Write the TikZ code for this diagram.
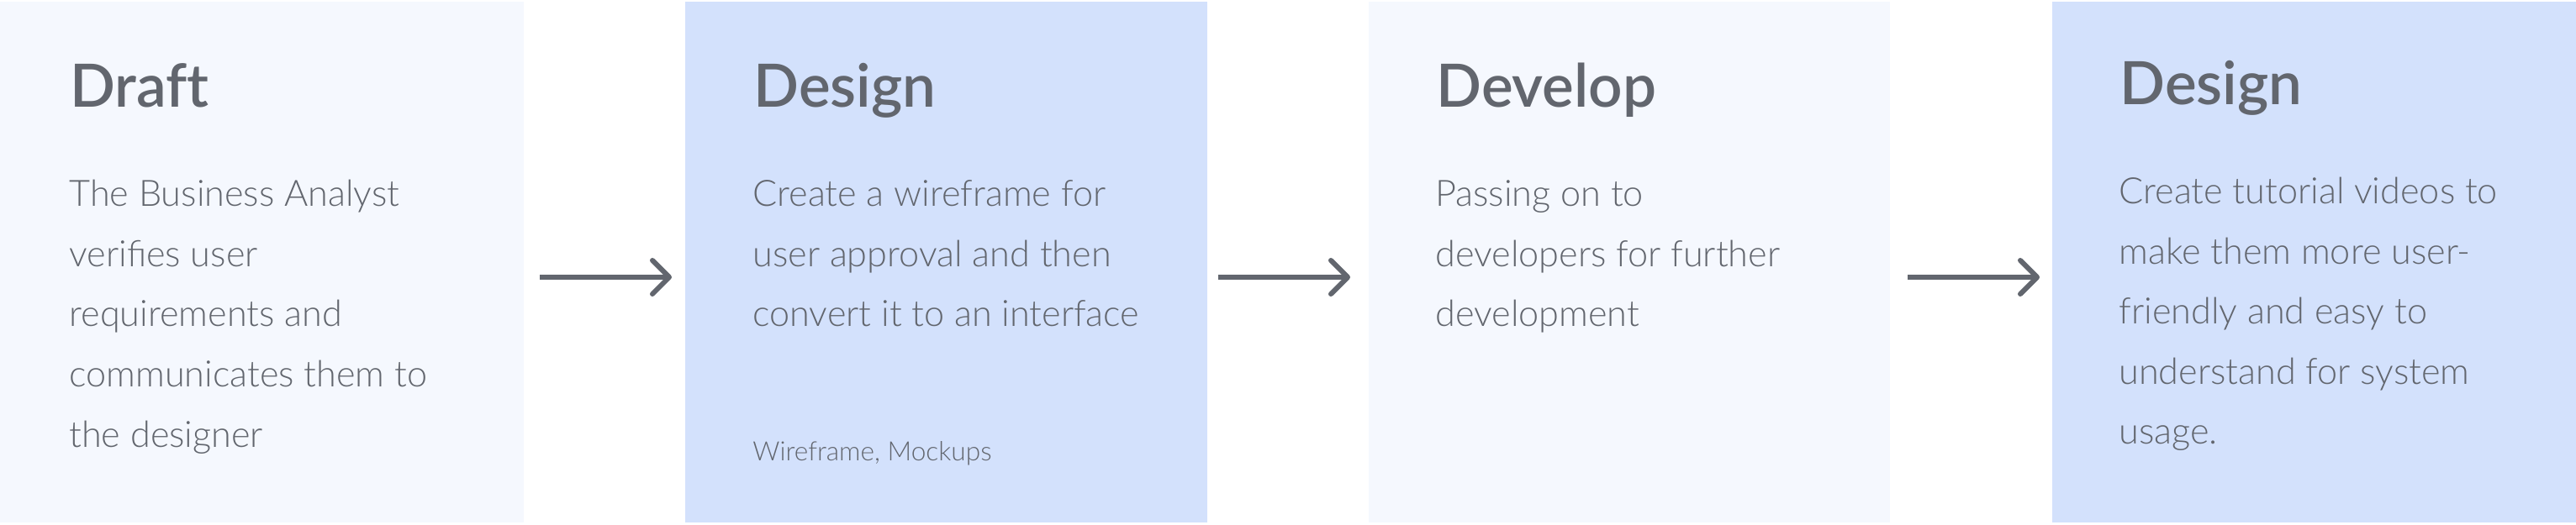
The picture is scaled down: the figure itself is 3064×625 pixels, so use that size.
\documentclass[tikz,border=0pt]{standalone}
\usepackage{fontspec}
\usetikzlibrary{arrows.meta}
\IfFontExistsTF{Lato Light}{\newfontfamily\bodyfont{Lato Light}}{\newfontfamily\bodyfont{Lato}}
\IfFontExistsTF{Lato Semibold}{\newfontfamily\titlefont{Lato Semibold}[Ligatures=NoCommon]}{\newfontfamily\titlefont{Lato}[UprightFont=* Bold,Ligatures=NoCommon]}
\definecolor{ink}{HTML}{62666E}
\definecolor{boxlight}{HTML}{F5F8FE}
\definecolor{boxblue}{HTML}{D3E1FC}
\tikzset{
  panel/.style={inner sep=0pt, outer sep=0pt, minimum height=310pt, anchor=north west, draw=none},
  lightpanel/.style={panel, fill=boxlight},
  bluepanel/.style={panel, fill=boxblue},
  title/.style={anchor=base west, inner sep=0pt, text=ink, font=\titlefont\fontsize{35.5}{40}\selectfont},
  body/.style={anchor=base west, inner sep=0pt, text=ink, font=\bodyfont\fontsize{21.6}{26}\selectfont},
  small/.style={anchor=base west, inner sep=0pt, text=ink, font=\bodyfont\fontsize{15.8}{19}\selectfont},
  conn/.style={draw=ink, line width=3pt, -{Straight Barb[length=10pt,width=20pt,round]}}
}
\begin{document}
\begin{tikzpicture}[x=0.5pt,y=-0.5pt]
\useasboundingbox (0,0) rectangle (3064,625);
\fill[white] (0,0) rectangle (3064,625);
% panels
\node[lightpanel, minimum width=311.5pt] (b1) at (0,2) {};
\node[bluepanel, minimum width=310.5pt] (b2) at (815,2) {};
\node[lightpanel, minimum width=310pt] (b3) at (1628,2) {};
\node[bluepanel, minimum width=311.5pt] (b4) at (2441,2) {};
% panel 1
\node[title] (t1) at (83,127.5) {Draft};
\node[body] (p1a) at (82,246) {The Business Analyst};
\node[body] (p1b) at (82,317.5) {verifies user};
\node[body] (p1c) at (82,389) {requirements and};
\node[body] (p1d) at (82,460.5) {communicates them to};
\node[body] (p1e) at (82,532) {the designer};
% panel 2
\node[title] (t2) at (896,127.5) {Design};
\node[body] (p2a) at (895,246) {Create a wireframe for};
\node[body] (p2b) at (895,317.5) {user approval and then};
\node[body] (p2c) at (895,389) {convert it to an interface};
\node[small] (p2d) at (895,548) {Wireframe, Mockups};
% panel 3
\node[title] (t3) at (1708,127.5) {Develop};
\node[body] (p3a) at (1707,246) {Passing on to};
\node[body] (p3b) at (1707,317.5) {developers for further};
\node[body] (p3c) at (1707,389) {development};
% panel 4
\node[title] (t4) at (2521,124.5) {Design};
\node[body] (p4a) at (2520,243) {Create tutorial videos to};
\node[body] (p4b) at (2520,314.5) {make them more user-};
\node[body] (p4c) at (2520,386) {friendly and easy to};
\node[body] (p4d) at (2520,457.5) {understand for system};
\node[body] (p4e) at (2520,529) {usage.};
% connectors
\draw[conn] ([shift={(19,18)}]b1.east) -- ([shift={(-16,18)}]b2.west);
\draw[conn] ([shift={(13,18)}]b2.east) -- ([shift={(-22,18)}]b3.west);
\draw[conn] ([shift={(21,18)}]b3.east) -- ([shift={(-15,18)}]b4.west);
\end{tikzpicture}
\end{document}
